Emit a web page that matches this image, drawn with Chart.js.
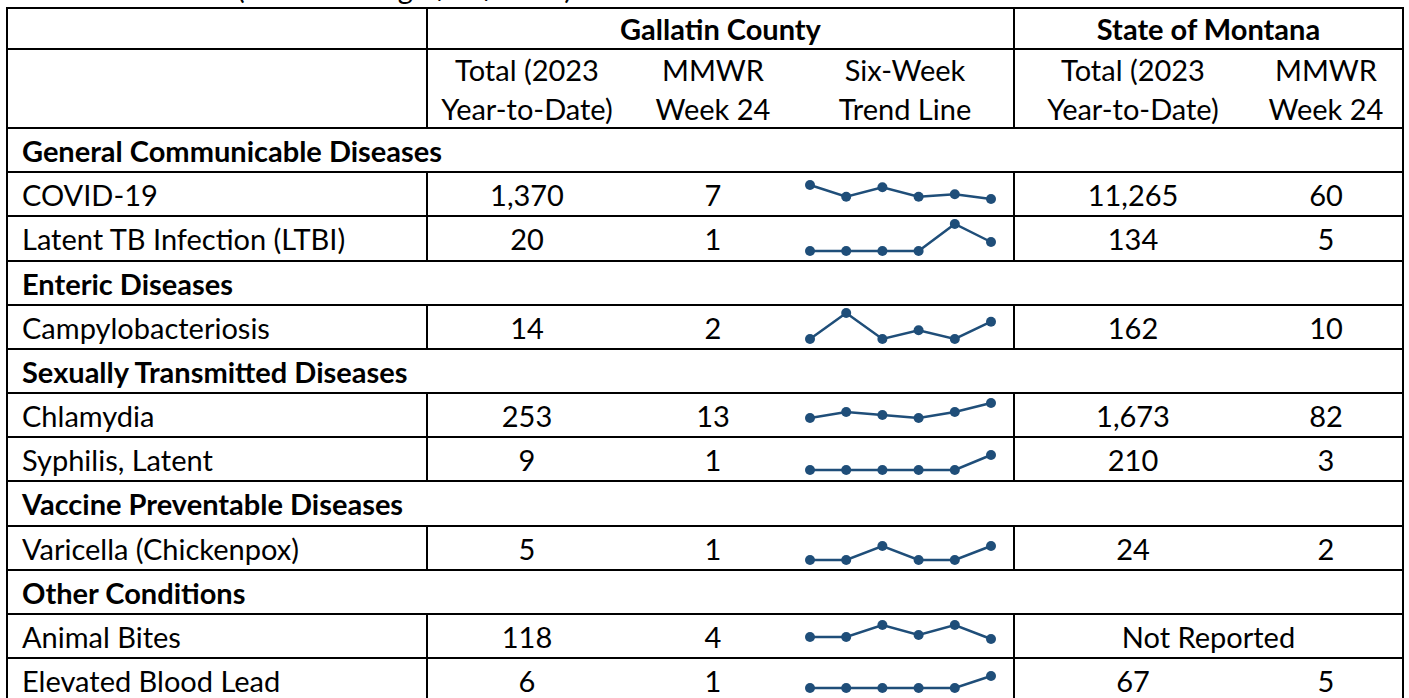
<!DOCTYPE html>
<html><head><meta charset="utf-8">
<script src="https://cdn.jsdelivr.net/npm/chart.js@4.4.0/dist/chart.umd.min.js"></script>
<style>
html,body{margin:0;padding:0;background:#fff;width:1409px;height:698px;overflow:hidden;}
#root{position:relative;width:1409px;height:698px;font-family:Lato,"Liberation Sans",sans-serif;color:#000;overflow:hidden;}
.t{position:absolute;display:flex;align-items:center;white-space:nowrap;font-size:29px;line-height:39px;}
.c{justify-content:center;text-align:center;}
.b{font-weight:bold;}
.ln{position:absolute;background:#000;}
canvas{position:absolute;}
</style></head><body><div id="root"></div>
<script>
// ---- data ----
const titleText = "(Week Ending 6/17/2023)";
const groupHeaders = ["Gallatin County", "State of Montana"];
const columnHeaders = [["Total (2023", "Year-to-Date)"], ["MMWR", "Week 24"], ["Six-Week", "Trend Line"], ["Total (2023", "Year-to-Date)"], ["MMWR", "Week 24"]];
const sectionNames = ["General Communicable Diseases", "Enteric Diseases", "Sexually Transmitted Diseases", "Vaccine Preventable Diseases", "Other Conditions"];
const conditions = ["COVID-19", "Latent TB Infection (LTBI)", "Campylobacteriosis", "Chlamydia", "Syphilis, Latent", "Varicella (Chickenpox)", "Animal Bites", "Elevated Blood Lead"];
const conditionSection = [0, 0, 1, 2, 2, 3, 4, 4];
const gallatinYTD = [1370, 20, 14, 253, 9, 5, 118, 6];
const gallatinWeek24 = [7, 1, 2, 13, 1, 1, 4, 1];
const montanaYTD = [11265, 134, 162, 1673, 210, 24, null, 67];
const montanaWeek24 = [60, 5, 10, 82, 3, 2, null, 5];
const notReportedText = "Not Reported";
const weekLabels = ["Wk 19", "Wk 20", "Wk 21", "Wk 22", "Wk 23", "Wk 24"];
const trendCovid = [13, 8, 12, 8, 9, 7];
const trendLTBI = [0, 0, 0, 0, 3, 1];
const trendCampy = [0, 3, 0, 1, 0, 2];
const trendChlamydia = [8, 10, 9, 8, 10, 13];
const trendSyphilis = [0, 0, 0, 0, 0, 1];
const trendVaricella = [0, 0, 1, 0, 0, 1];
const trendAnimalBites = [5, 5, 11, 6, 11, 4];
const trendBloodLead = [0, 0, 0, 0, 0, 1];
const trends = [trendCovid, trendLTBI, trendCampy, trendChlamydia, trendSyphilis, trendVaricella, trendAnimalBites, trendBloodLead];

// ---- layout (not data) ----
const root = document.getElementById('root');
const X = {L: 7, c1: 427, c2: 626, c3: 800, c4: 1014, c5: 1251, R: 1403};
const colCenters = [527, 713, 905, 1133, 1326];
const Y0 = 8, Y1 = 49, Y2 = 128, RH = 44.17;
const sparkPad = [[13, 17], [8, 10], [8, 10], [10, 19], [18, 11], [20, 10], [11, 19], [18, 14]];
const lineColor = '#1F4E79';

function line(x, y, w, h) {
  const d = document.createElement('div'); d.className = 'ln';
  d.style.left = x + 'px'; d.style.top = y + 'px'; d.style.width = w + 'px'; d.style.height = h + 'px';
  root.appendChild(d);
}
function text(str, x, y, w, h, cls, extra) {
  const d = document.createElement('div'); d.className = 't ' + (cls || '');
  d.style.left = x + 'px'; d.style.top = y + 'px'; d.style.width = w + 'px'; d.style.height = h + 'px';
  if (extra) Object.assign(d.style, extra);
  d.textContent = str; root.appendChild(d); return d;
}
const fmt = v => v.toLocaleString('en-US');

// title fragment (cut off at the top edge, as in the reference)
text(titleText, 237, -28, 420, 32, '', {lineHeight: '32px'});

// header rows
text(groupHeaders[0], X.c1, Y0, X.c4 - X.c1, Y1 - Y0, 'c b');
text(groupHeaders[1], X.c4, Y0, X.R - X.c4, Y1 - Y0, 'c b');
columnHeaders.forEach((h, i) => {
  const d = text('', colCenters[i] - 110, Y1, 220, Y2 - Y1, 'c', {flexDirection: 'column', justifyContent: 'center'});
  h.forEach(s => { const sp = document.createElement('div'); sp.textContent = s; sp.style.height = '39px'; d.appendChild(sp); });
});

// body rows
const rows = [];
let lastSec = -1;
conditions.forEach((c, i) => {
  if (conditionSection[i] !== lastSec) { lastSec = conditionSection[i]; rows.push({sec: lastSec}); }
  rows.push({item: i});
});
const hLines = [Y0, Y1, Y2];
const vSegs = [[Y0, Y2]];
rows.forEach((r, k) => {
  const top = Math.round(Y2 + k * RH), bot = Math.round(Y2 + (k + 1) * RH);
  hLines.push(bot);
  if (r.sec !== undefined) {
    text(sectionNames[r.sec], 22, top, 900, bot - top, 'b');
  } else {
    const i = r.item;
    vSegs.push([top, bot]);
    text(conditions[i], 22, top, 400, bot - top, '');
    text(fmt(gallatinYTD[i]), colCenters[0] - 90, top, 180, bot - top, 'c');
    text(fmt(gallatinWeek24[i]), colCenters[1] - 80, top, 160, bot - top, 'c');
    if (montanaYTD[i] === null) {
      text(notReportedText, X.c4, top, X.R - X.c4, bot - top, 'c');
    } else {
      text(fmt(montanaYTD[i]), colCenters[3] - 100, top, 200, bot - top, 'c');
      text(fmt(montanaWeek24[i]), colCenters[4] - 70, top, 140, bot - top, 'c');
    }
    // sparkline
    const cv = document.createElement('canvas');
    const h = bot - top;
    cv.width = 212; cv.height = h;
    cv.style.left = X.c3 + 'px'; cv.style.top = top + 'px';
    cv.style.width = '212px'; cv.style.height = h + 'px';
    root.appendChild(cv);
    const d = trends[i];
    new Chart(cv, {
      type: 'line',
      data: {labels: weekLabels, datasets: [{data: d, borderColor: lineColor, backgroundColor: lineColor,
        borderWidth: 2.5, pointRadius: 5, pointBackgroundColor: lineColor, pointBorderWidth: 0, tension: 0, clip: false}]},
      options: {responsive: false, animation: false, events: [], devicePixelRatio: 1,
        layout: {padding: {left: 10, right: 21, top: sparkPad[i][0], bottom: sparkPad[i][1]}},
        plugins: {legend: {display: false}, tooltip: {enabled: false}},
        scales: {x: {display: false, offset: false}, y: {display: false, min: Math.min(...d), max: Math.max(...d)}}}
    });
  }
});
hLines.forEach(y => line(X.L - 1, y - 1, X.R - X.L + 2, 2));
line(X.L - 1, Y0 - 1, 2, 720);
line(X.R - 1, Y0 - 1, 2, 720);
vSegs.forEach(([a, b]) => { line(X.c1 - 1, a - 1, 2, b - a + 2); line(X.c4 - 1, a - 1, 2, b - a + 2); });
</script></body></html>
